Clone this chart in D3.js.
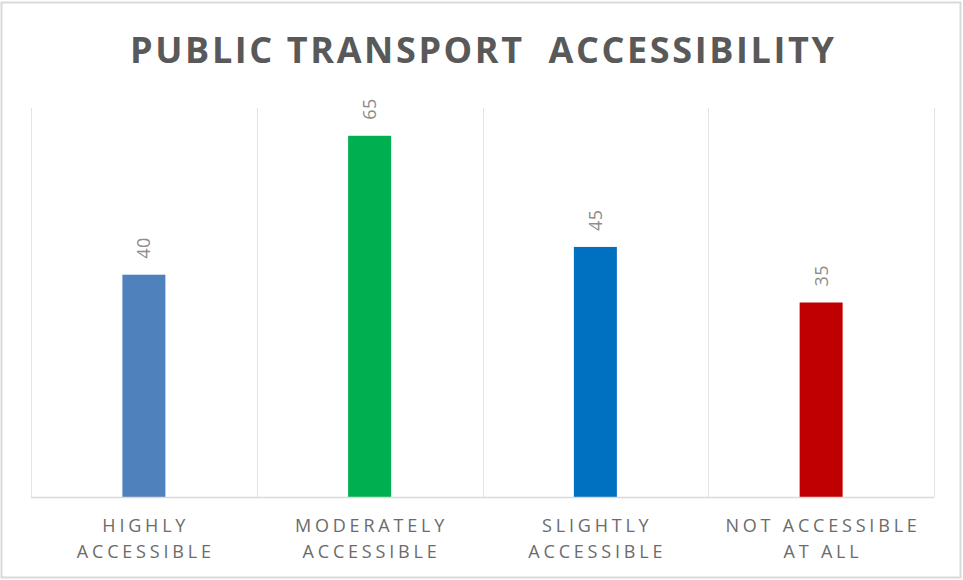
<!DOCTYPE html>
<html lang="en">
<head>
  <meta charset="UTF-8">
  <title>Public Transport Accessibility</title>
  <script src="https://d3js.org/d3.v7.min.js"></script>
  <style>
    html, body { margin: 0; padding: 0; background: #fff; overflow: hidden; }
    svg { display: block; }
    .title { font-family: "Open Sans", sans-serif; font-weight: 700; fill: #595959; }
    .cat text { font-family: "Open Sans", sans-serif; fill: #6b6b6b; }
    .val { font-family: "Open Sans", sans-serif; fill: #8c8c8c; }
  </style>
</head>
<body>
  <svg id="chart" width="963" height="580"></svg>
  <script>
  // data
  const categories = ["HIGHLY ACCESSIBLE", "MODERATELY ACCESSIBLE", "SLIGHTLY ACCESSIBLE", "NOT ACCESSIBLE AT ALL"];
  const catLines = [["HIGHLY", "ACCESSIBLE"], ["MODERATELY", "ACCESSIBLE"], ["SLIGHTLY", "ACCESSIBLE"], ["NOT ACCESSIBLE", "AT ALL"]];
  const values = [40, 65, 45, 35];
  const colors = ["#4f81bd", "#00b050", "#0070c0", "#c00000"];

  const svg = d3.select("#chart");
  const W = 963, H = 580;
  const margin = { top: 108, right: 29, bottom: 83, left: 31 };

  // outer border
  svg.append("rect")
    .attr("x", 1.5).attr("y", 2.5)
    .attr("width", W - 4).attr("height", H - 5)
    .attr("fill", "#fff").attr("stroke", "#d9d9d9").attr("stroke-width", 2);

  const ls = 2.6;
  svg.append("text")
    .attr("class", "title")
    .attr("x", 482 + ls / 2).attr("y", 63)
    .attr("text-anchor", "middle")
    .style("font-size", "36px")
    .style("letter-spacing", ls + "px")
    .style("white-space", "pre")
    .text("PUBLIC TRANSPORT  ACCESSIBILITY");

  const x = d3.scaleBand()
    .domain(categories)
    .range([margin.left, W - margin.right])
    .paddingInner(0).paddingOuter(0);

  const y = d3.scaleLinear()
    .domain([0, 70])
    .range([H - margin.bottom, margin.top]);

  const g = svg.append("g");

  // vertical gridlines at category boundaries
  const bounds = categories.map(c => x(c)).concat([x.range()[1]]);
  g.selectAll(".vgrid")
    .data(bounds)
    .join("line")
    .attr("x1", d => Math.round(d) + 0.5).attr("x2", d => Math.round(d) + 0.5)
    .attr("y1", y(70)).attr("y2", y(0))
    .attr("stroke", "#e3e3e3").attr("stroke-width", 1);

  const barW = 43;
  g.selectAll(".bar")
    .data(values)
    .join("rect")
    .attr("x", (d, i) => x(categories[i]) + x.bandwidth() / 2 - barW / 2)
    .attr("y", d => y(d))
    .attr("width", barW)
    .attr("height", d => y(0) - y(d))
    .attr("fill", (d, i) => colors[i]);

  // baseline
  g.append("line")
    .attr("x1", x.range()[0]).attr("x2", x.range()[1])
    .attr("y1", y(0) + 0.5).attr("y2", y(0) + 0.5)
    .attr("stroke", "#d9d9d9").attr("stroke-width", 1.5);

  // rotated value labels
  g.selectAll(".val")
    .data(values)
    .join("text")
    .attr("class", "val")
    .attr("transform", (d, i) => `translate(${x(categories[i]) + x.bandwidth() / 2 + 6.5},${y(d) - 16}) rotate(-90)`)
    .attr("text-anchor", "start")
    .style("font-size", "18px")
    .style("letter-spacing", "0.5px")
    .text(d => d);

  // category labels
  const catLs = 3.8;
  const cat = g.selectAll(".cat")
    .data(catLines)
    .join("g")
    .attr("class", "cat")
    .attr("transform", (d, i) => `translate(${x(categories[i]) + x.bandwidth() / 2 + catLs / 2},0)`);

  cat.selectAll("text")
    .data(d => d)
    .join("text")
    .attr("x", 0)
    .attr("y", (d, j) => 531.5 + j * 26)
    .attr("text-anchor", "middle")
    .style("font-size", "18px")
    .style("letter-spacing", catLs + "px")
    .text(d => d);
  </script>
</body>
</html>
